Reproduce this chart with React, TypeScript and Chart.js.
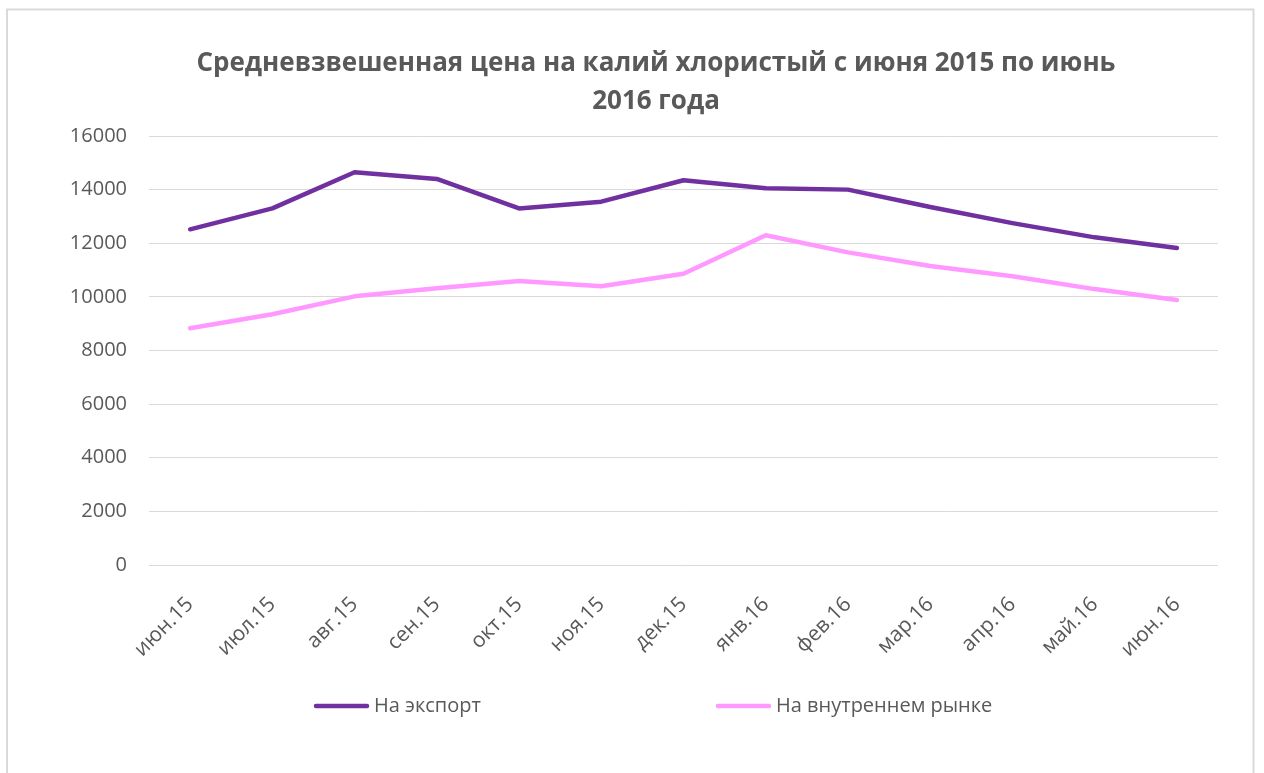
import { useEffect, useRef } from "react";
import { Chart, registerables } from "chart.js";

Chart.register(...registerables);

const categories = [
  "июн.15", "июл.15", "авг.15", "сен.15", "окт.15", "ноя.15", "дек.15",
  "янв.16", "фев.16", "мар.16", "апр.16", "май.16", "июн.16",
];
const exportPrices = [12520, 13300, 14650, 14400, 13300, 13550, 14350, 14050, 14000, 13350, 12750, 12220, 11820];
const domesticPrices = [8830, 9350, 10020, 10320, 10590, 10400, 10860, 12300, 11660, 11150, 10770, 10290, 9880];
const seriesNames = ["На экспорт", "На внутреннем рынке"];
const seriesColors = ["#7030A0", "#FF99FF"];
const titleLines = ["Средневзвешенная цена на калий хлористый с июня 2015 по июнь", "2016 года"];
const yMin = 0;
const yMax = 16000;
const yStep = 2000;

const TEXT = "#595959";
const GRID = "#d9d9d9";
const FONT = "'Open Sans', 'DejaVu Sans', sans-serif";

const framePlugin = {
  id: "frame",
  beforeDraw(chart: any) {
    const ctx = chart.ctx;
    ctx.save();
    ctx.fillStyle = "#ffffff";
    ctx.fillRect(0, 0, chart.width, chart.height);
    ctx.strokeStyle = GRID;
    ctx.lineWidth = 2;
    ctx.strokeRect(7, 9.5, 1246.5, 800);
    ctx.restore();
  },
};

const titlePlugin = {
  id: "excelTitle",
  afterDraw(chart: any) {
    const ctx = chart.ctx;
    const cx = 656;
    ctx.save();
    ctx.fillStyle = TEXT;
    ctx.font = `bold 26px ${FONT}`;
    ctx.textAlign = "center";
    ctx.textBaseline = "middle";
    titleLines.forEach((line, i) => {
      ctx.fillText(line, cx, 64 + i * 38);
    });
    ctx.restore();
  },
};

const legendPlugin = {
  id: "bottomLegend",
  afterDraw(chart: any) {
    const ctx = chart.ctx;
    const startX = 316;
    const step = 402;
    const y = 706;
    ctx.save();
    chart.data.datasets.forEach((ds: any, i: number) => {
      const x = startX + i * step;
      ctx.strokeStyle = ds.borderColor;
      ctx.lineWidth = 4.5;
      ctx.lineCap = "round";
      ctx.beginPath();
      ctx.moveTo(x, y);
      ctx.lineTo(x + 51, y);
      ctx.stroke();
      ctx.fillStyle = TEXT;
      ctx.font = `20px ${FONT}`;
      ctx.textBaseline = "middle";
      ctx.textAlign = "left";
      ctx.fillText(ds.label, x + 58, y);
    });
    ctx.restore();
  },
};

export default function App() {
  const ref = useRef<HTMLCanvasElement | null>(null);

  useEffect(() => {
    if (!ref.current) return;
    const chart = new Chart(ref.current, {
      type: "line",
      data: {
        labels: categories,
        datasets: [
          {
            label: seriesNames[0],
            data: exportPrices,
            borderColor: seriesColors[0],
            backgroundColor: seriesColors[0],
            borderWidth: 4.5,
            pointRadius: 0,
            tension: 0,
            borderCapStyle: "round",
            borderJoinStyle: "round",
          },
          {
            label: seriesNames[1],
            data: domesticPrices,
            borderColor: seriesColors[1],
            backgroundColor: seriesColors[1],
            borderWidth: 4.5,
            pointRadius: 0,
            tension: 0,
            borderCapStyle: "round",
            borderJoinStyle: "round",
          },
        ],
      },
      options: {
        animation: false,
        responsive: false,
        maintainAspectRatio: false,
        layout: { padding: { left: 40, right: 46, top: 136, bottom: 0 } },
        plugins: {
          legend: { display: false },
          tooltip: { enabled: false },
          title: { display: false },
        },
        scales: {
          x: {
            offset: true,
            grid: { display: false, drawTicks: false },
            border: { display: false },
            ticks: {
              color: TEXT,
              font: { family: FONT, size: 21 },
              minRotation: 45,
              maxRotation: 45,
              autoSkip: false,
              padding: 27,
            },
            afterFit(scale: any) {
              scale.height = 208;
            },
          },
          y: {
            min: yMin,
            max: yMax,
            grid: { color: GRID, lineWidth: 1, drawTicks: false },
            border: { display: false },
            ticks: {
              stepSize: yStep,
              color: TEXT,
              font: { family: FONT, size: 20 },
              padding: 22,
              callback: (value: any) => String(value),
            },
            afterFit(scale: any) {
              scale.width = 109;
            },
          },
        },
      },
      plugins: [framePlugin, titlePlugin, legendPlugin],
    });
    return () => chart.destroy();
  }, []);

  return (
    <div style={{ position: "absolute", left: 0, top: 0, width: 1264, height: 773 }}>
      <canvas ref={ref} width={1264} height={773} style={{ width: 1264, height: 773, display: "block" }} />
    </div>
  );
}
